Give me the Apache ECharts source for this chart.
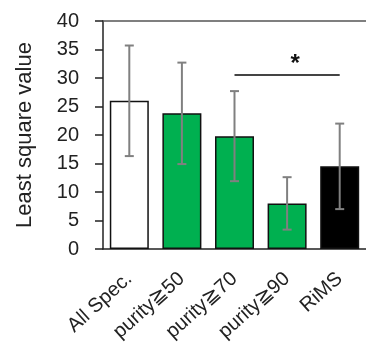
<!DOCTYPE html>
<html><head><meta charset="utf-8">
<script src="https://cdn.jsdelivr.net/npm/echarts@6/dist/echarts.min.js"></script>
<style>html,body{margin:0;padding:0;background:#fff}#c{width:366px;height:360px}</style>
</head><body><div id="c"></div>
<script>
var categories = ['All Spec.', 'purity≧50', 'purity≧70', 'purity≧90', 'RiMS'];
var means = [26.0, 23.8, 19.8, 8.0, 14.5];
var errors = [9.7, 8.9, 7.9, 4.6, 7.5];
var barColors = ['#ffffff', '#00b050', '#00b050', '#00b050', '#000000'];
var yTicks = [0, 5, 10, 15, 20, 25, 30, 35, 40];
var sigFrom = 2, sigTo = 4, sigValue = 30.5, sigLabel = '*';

var chart = echarts.init(document.getElementById('c'));
var font = 'Liberation Sans, Arial, sans-serif';
chart.setOption({
  animation: false,
  grid: {left: 103, top: 21, width: 265, height: 228},
  xAxis: [{
    type: 'category', data: categories,
    axisLine: {lineStyle: {color: '#222', width: 1.5}},
    axisTick: {show: false},
    axisLabel: {rotate: 42, fontSize: 20, fontFamily: font, color: '#222', margin: 27, interval: 0}
  }, {
    type: 'category', data: categories, position: 'top',
    axisLine: {show: true, lineStyle: {color: '#555', width: 1.5}},
    axisTick: {show: false}, axisLabel: {show: false}
  }],
  yAxis: {
    type: 'value', min: yTicks[0], max: yTicks[yTicks.length - 1], interval: 5,
    name: 'Least square value', nameLocation: 'middle', nameGap: 67,
    nameTextStyle: {fontSize: 22, fontFamily: font, color: '#222'},
    axisLine: {show: true, lineStyle: {color: '#222', width: 1.5}},
    axisTick: {show: true, inside: false, length: 8, lineStyle: {color: '#222', width: 1.5}},
    axisLabel: {fontSize: 20, fontFamily: font, color: '#222', margin: 24},
    splitLine: {show: false}
  },
  series: [{
    type: 'bar', barWidth: 39,
    data: means.map(function (v, i) {
      return {value: v, itemStyle: {color: barColors[i], borderColor: '#111', borderWidth: 1.5}};
    }),
    markLine: {
      symbol: 'none', silent: true,
      lineStyle: {color: '#444', width: 2, type: 'solid'},
      label: {show: false},
      data: [[{coord: [sigFrom, sigValue]}, {coord: [sigTo, sigValue]}]]
    },
    markPoint: {
      symbol: 'circle', symbolSize: 1, itemStyle: {color: 'transparent'},
      label: {show: true, formatter: sigLabel, fontSize: 24, fontWeight: 'bold', color: '#111', fontFamily: font, offset: [8, 6]},
      data: [{coord: [(sigFrom + sigTo) / 2, sigValue + 3]}]
    }
  }, {
    type: 'custom',
    data: means.map(function (v, i) { return [i, v - errors[i], v + errors[i]]; }),
    renderItem: function (params, api) {
      var lo = api.coord([api.value(0), api.value(1)]);
      var hi = api.coord([api.value(0), api.value(2)]);
      var w = 4.5;
      var st = {stroke: '#808080', lineWidth: 2};
      return {type: 'group', children: [
        {type: 'line', shape: {x1: lo[0], y1: lo[1], x2: hi[0], y2: hi[1]}, style: st},
        {type: 'line', shape: {x1: lo[0] - w, y1: lo[1], x2: lo[0] + w, y2: lo[1]}, style: st},
        {type: 'line', shape: {x1: hi[0] - w, y1: hi[1], x2: hi[0] + w, y2: hi[1]}, style: st}
      ]};
    },
    z: 10
  }]
});
</script></body></html>
